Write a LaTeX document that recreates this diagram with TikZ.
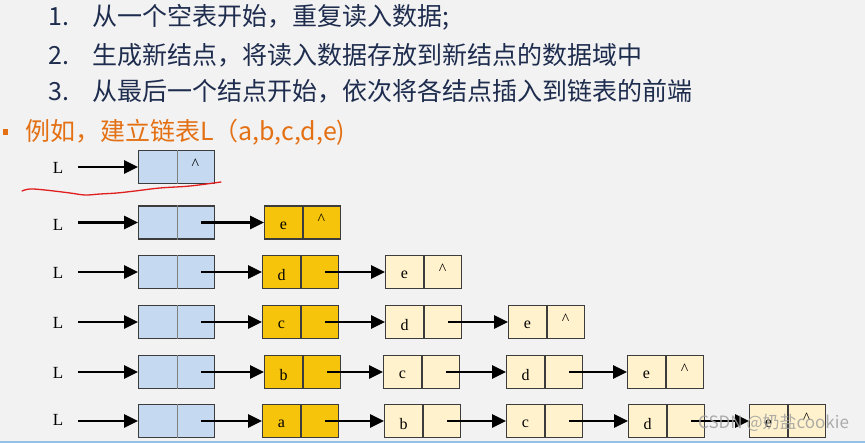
\documentclass[tikz,border=0pt]{standalone}
\usepackage{fontspec}
\setmainfont{Liberation Serif}
\newfontfamily\cjk{Noto Sans CJK SC}
\usetikzlibrary{arrows.meta}
\definecolor{bg}{RGB}{242,242,242}
\definecolor{navy}{RGB}{30,44,78}
\definecolor{orangeT}{RGB}{228,112,20}
\definecolor{headblue}{RGB}{197,217,240}
\definecolor{gold}{RGB}{246,196,10}
\definecolor{cream}{RGB}{255,242,204}
\definecolor{boxline}{RGB}{60,60,60}
\definecolor{penred}{RGB}{225,30,30}
\definecolor{stripblue}{RGB}{150,192,230}
\tikzset{
  title/.style={font=\cjk\fontsize{25}{30}\selectfont, text=navy, inner sep=0pt, anchor=base west},
  extitle/.style={font=\cjk\fontsize{25}{30}\selectfont, text=orangeT, inner sep=0pt, anchor=base west},
  cell/.style={draw=boxline, line width=1.2pt, minimum width=76pt, minimum height=33pt, inner sep=0pt, anchor=west},
  headcell/.style={cell, fill=headblue},
  newcell/.style={cell, fill=gold},
  oldcell/.style={cell, fill=cream},
  thindiv/.style={draw=gray, line width=0.6pt},
  thickdiv/.style={draw=boxline, line width=1.2pt},
  val/.style={font=\fontsize{16}{18}\selectfont, text=black, inner sep=0pt},
  lab/.style={font=\fontsize{17}{19}\selectfont, text=black, inner sep=0pt},
  ptr/.style={line width=2.7pt, -{Triangle[length=14pt,width=13pt]}},
}
% name, left x, centre y, cell style, divider style, data, pointer text
\newcommand{\lnode}[7]{%
  \node[#4] (#1) at (#2,#3) {};
  \draw[#5] ([xshift=39pt]#1.north west) -- ([xshift=39pt]#1.south west);
  \node[val] (#1v) at ([xshift=19.5pt,yshift=-3pt]#1.west) {#6};
  \node[val] (#1p) at ([xshift=57.5pt,yshift=3pt]#1.west) {#7};
}
\begin{document}
\begin{tikzpicture}[x=1pt,y=-1pt]
\fill[bg] (0,0) rectangle (865,443);
\useasboundingbox (0,0) rectangle (865,443);
\fill[stripblue] (0,441) rectangle (865,443);

% text lines
\node[title] (n1) at (48,26) {1.};
\node[title] (t1) at (92,26) {从一个空表开始，重复读入数据;};
\node[title] (n2) at (48,65) {2.};
\node[title] (t2) at (92,65) {生成新结点，将读入数据存放到新结点的数据域中};
\node[title] (n3) at (48,101) {3.};
\node[title] (t3) at (92,101) {从最后一个结点开始，依次将各结点插入到链表的前端};
\node[fill=orangeT, minimum width=5pt, minimum height=6pt, inner sep=0pt] (bul) at (5.5,132) {};
\node[extitle] (t4) at (25,141) {例如，建立链表L（a,b,c,d,e)};

% row 1
\node[lab] (L1) at (58,168) {L};
\coordinate (s1) at (78,167);
\lnode{h1}{138}{167}{headcell}{thindiv}{}{\textasciicircum}
\draw[ptr] (s1) -- (h1.west);
\draw[penred, line width=1.3pt, line cap=round]
  plot[smooth, tension=0.6] coordinates {(22,191) (30,189) (45,190) (70,193) (85,195) (100,194) (117,193) (135,191) (160,188) (190,186) (221,182)};

% row 2
\node[lab] (L2) at (58,225) {L};
\coordinate (s2) at (78,222.5);
\lnode{h2}{138}{222.5}{headcell}{thindiv}{}{}
\lnode{r2a}{264}{222.5}{newcell}{thickdiv}{e}{\textasciicircum}
\draw[ptr] (s2) -- (h2.west);
\draw[ptr] ([xshift=-14pt]h2.east) -- (r2a.west);

% row 3
\node[lab] (L3) at (58,273) {L};
\coordinate (s3) at (78,272);
\lnode{h3}{138}{272}{headcell}{thindiv}{}{}
\lnode{r3a}{262}{272}{newcell}{thickdiv}{d}{}
\lnode{r3b}{385}{272}{oldcell}{thickdiv}{e}{\textasciicircum}
\draw[ptr] (s3) -- (h3.west);
\draw[ptr] ([xshift=-14pt]h3.east) -- (r3a.west);
\draw[ptr] ([xshift=-14pt]r3a.east) -- (r3b.west);

% row 4
\node[lab] (L4) at (58,323) {L};
\coordinate (s4) at (78,322);
\lnode{h4}{138}{322}{headcell}{thindiv}{}{}
\lnode{r4a}{262}{322}{newcell}{thickdiv}{c}{}
\lnode{r4b}{385}{322}{oldcell}{thickdiv}{d}{}
\lnode{r4c}{508}{322}{oldcell}{thickdiv}{e}{\textasciicircum}
\draw[ptr] (s4) -- (h4.west);
\draw[ptr] ([xshift=-14pt]h4.east) -- (r4a.west);
\draw[ptr] ([xshift=-14pt]r4a.east) -- (r4b.west);
\draw[ptr] ([xshift=-14pt]r4b.east) -- (r4c.west);

% row 5
\node[lab] (L5) at (58,373) {L};
\coordinate (s5) at (78,372);
\lnode{h5}{138}{372}{headcell}{thindiv}{}{}
\lnode{r5a}{264}{372}{newcell}{thickdiv}{b}{}
\lnode{r5b}{383}{372}{oldcell}{thickdiv}{c}{}
\lnode{r5c}{506}{372}{oldcell}{thickdiv}{d}{}
\lnode{r5d}{627}{372}{oldcell}{thickdiv}{e}{\textasciicircum}
\draw[ptr] (s5) -- (h5.west);
\draw[ptr] ([xshift=-14pt]h5.east) -- (r5a.west);
\draw[ptr] ([xshift=-14pt]r5a.east) -- (r5b.west);
\draw[ptr] ([xshift=-14pt]r5b.east) -- (r5c.west);
\draw[ptr] ([xshift=-14pt]r5c.east) -- (r5d.west);

% row 6
\node[lab] (L6) at (58,420) {L};
\coordinate (s6) at (78,421);
\lnode{h6}{138}{421}{headcell}{thindiv}{}{}
\lnode{r6a}{262}{421}{newcell}{thickdiv}{a}{}
\lnode{r6b}{384}{421}{oldcell}{thickdiv}{b}{}
\lnode{r6c}{506}{421}{oldcell}{thickdiv}{c}{}
\lnode{r6d}{628}{421}{oldcell}{thickdiv}{d}{}
\lnode{r6e}{749}{421}{oldcell}{thickdiv}{e}{\textasciicircum}
\draw[ptr] (s6) -- (h6.west);
\draw[ptr] ([xshift=-14pt]h6.east) -- (r6a.west);
\draw[ptr] ([xshift=-14pt]r6a.east) -- (r6b.west);
\draw[ptr] ([xshift=-14pt]r6b.east) -- (r6c.west);
\draw[ptr] ([xshift=-14pt]r6c.east) -- (r6d.west);
\draw[ptr] ([xshift=-14pt]r6d.east) -- (r6e.west);

% watermark
\node[font=\cjk\fontsize{17}{19}\selectfont, text=gray!75, opacity=0.85, inner sep=0pt, anchor=west] (wm) at (698,423) {CSDN @奶盐cookie};
\end{tikzpicture}
\end{document}
